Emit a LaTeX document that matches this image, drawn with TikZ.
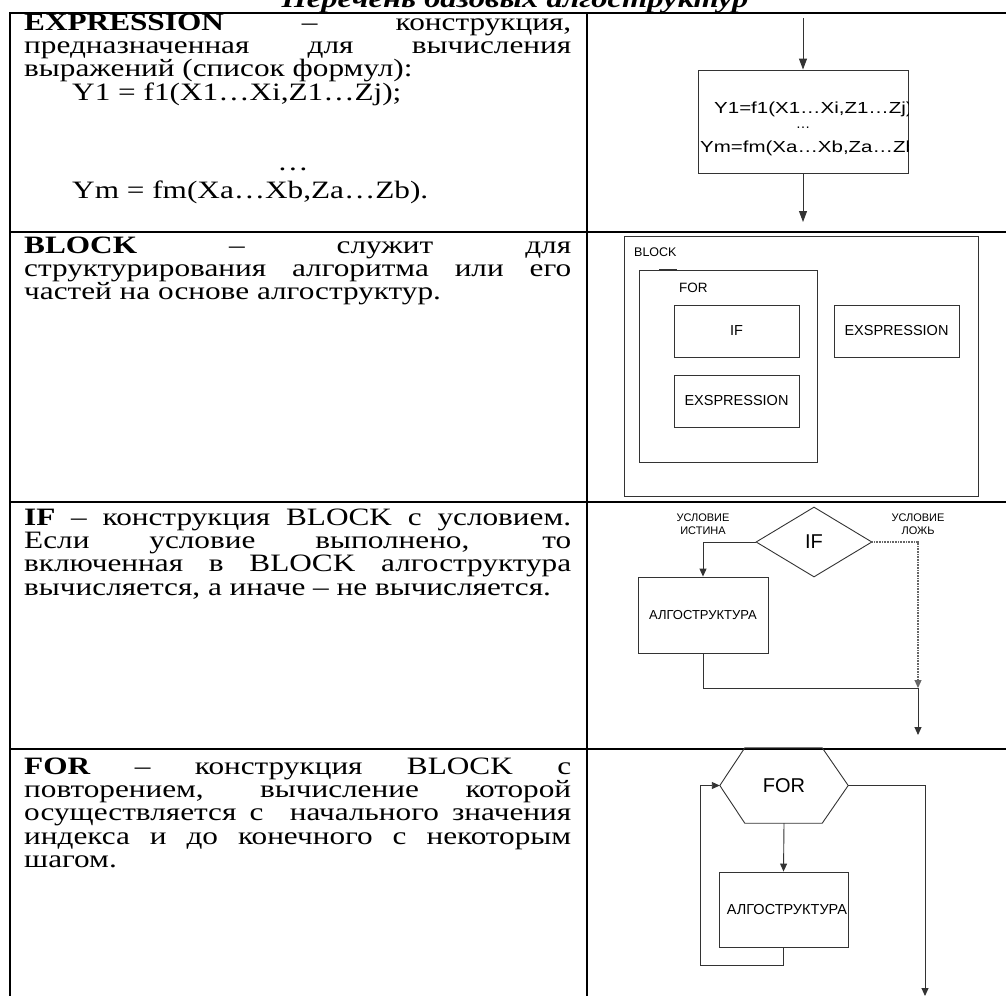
\documentclass[tikz,border=0pt]{standalone}
\usepackage{fontspec}
\usepackage{graphicx}
\setmainfont{Liberation Serif}
\newfontfamily\widefont{Liberation Serif}[FakeStretch=1.25]
\newfontfamily\diagfont{Liberation Sans}
\usetikzlibrary{arrows.meta,shapes.geometric}

\tikzset{
  tablerule/.style={line width=2pt, draw=black},
  wire/.style={line width=0.9pt, draw=black!80},
  arrowline/.style={wire, -{Triangle[length=8pt,width=7pt]}},
  bigarrow/.style={wire, -{Triangle[length=11pt,width=8pt]}},
  falsewire/.style={line width=1.1pt, draw=black!60, dash pattern=on 1pt off 0.6pt},
  rectbox/.style={draw=black!80, line width=0.9pt, rectangle, inner sep=0pt},
  txt/.style={anchor=base west, inner sep=0pt, font=\widefont\fontsize{25}{25}\selectfont},
  boxtext/.style={inner sep=0pt, font=\diagfont\fontsize{14.5}{16}\selectfont},
  cond/.style={inner sep=0pt, align=center, font=\diagfont\fontsize{11}{12.5}\selectfont},
  bigtext/.style={inner sep=0pt, font=\diagfont\fontsize{20}{20}\selectfont},
}
\newcommand{\jline}[1]{\makebox[547pt][s]{#1}}

\begin{document}
\begin{tikzpicture}[x=1pt, y=-1pt]
\useasboundingbox (0,0) rectangle (1006,996);
\clip (0,0) rectangle (1006,996);

% heading, partly above the page edge
\node[anchor=base, inner sep=0pt, font=\widefont\bfseries\itshape\fontsize{26}{26}\selectfont] (title) at (515,7) {Перечень базовых алгоструктур};

% table rules
\draw[tablerule] (10,13) -- (1006,13);
\draw[tablerule] (10,232) -- (1006,232);
\draw[tablerule] (10,502) -- (1006,502);
\draw[tablerule] (10,749) -- (1006,749);
\draw[tablerule] (10,12) -- (10,996);
\draw[tablerule] (587,12) -- (587,996);

% ---------- row 1: EXPRESSION ----------
\node[txt] (e1) at (24,30) {\jline{\textbf{EXPRESSION} – конструкция,}};
\node[txt] (e2) at (24,53.4) {\jline{предназначенная для вычисления}};
\node[txt] (e3) at (24,76.8) {выражений (список формул):};
\node[txt] (e4) at (72,100.2) {Y1 = f1(X1…Xi,Z1…Zj);};
\node[txt, anchor=base] (e5) at (293,170) {…};
\node[txt] (e6) at (72,198) {Ym = fm(Xa…Xb,Za…Zb).};

\node[rectbox, minimum width=210pt, minimum height=103pt] (exbox) at (803,121.5) {};
\coordinate (exin) at (803,18);
\coordinate (exout) at (803,222);
\draw[bigarrow] (exin) -- (exbox.north);
\draw[bigarrow] (exbox.south) -- (exout);
\begin{scope}
  \clip (exbox.south west) rectangle (exbox.north east);
  \node[boxtext, anchor=base west, font=\diagfont\fontsize{16}{16}\selectfont] (f1) at (714,113) {\scalebox{1.28}[1]{Y1=f1(X1…Xi,Z1…Zj)}};
  \node[boxtext, anchor=base] (f2) at (803,128) {…};
  \node[boxtext, anchor=base west, font=\diagfont\fontsize{16}{16}\selectfont] (f3) at (700,152) {\scalebox{1.28}[1]{Ym=fm(Xa…Xb,Za…Zb)}};
\end{scope}

% ---------- row 2: BLOCK ----------
\node[txt] (b1) at (24,253) {\jline{\textbf{BLOCK} – служит для}};
\node[txt] (b2) at (24,276.4) {\jline{структурирования алгоритма или его}};
\node[txt] (b3) at (24,299.8) {частей на основе алгоструктур.};

\node[rectbox, minimum width=354pt, minimum height=260pt] (blk) at (801,366) {};
\node[boxtext, anchor=base west, font=\diagfont\fontsize{12.5}{14}\selectfont] (blklbl) at (634,256) {BLOCK};
\node[rectbox, minimum width=178pt, minimum height=192pt] (forbox) at (728,366) {};
\draw[line width=1.8pt, black!80] (659,269.5) -- (677,269.5);
\node[boxtext, anchor=base west, font=\diagfont\fontsize{13.5}{14}\selectfont] (forlbl) at (679,292) {FOR};
\node[rectbox, boxtext, minimum width=125pt, minimum height=52pt] (ifbox) at (736.5,331) {IF};
\node[rectbox, boxtext, minimum width=125pt, minimum height=52pt] (exin1) at (736.5,401) {EXSPRESSION};
\node[rectbox, boxtext, minimum width=125pt, minimum height=52pt] (exin2) at (896.5,331) {EXSPRESSION};

% ---------- row 3: IF ----------
\node[txt] (i1) at (24,525) {\jline{\textbf{IF} – конструкция BLOCK с условием.}};
\node[txt] (i2) at (24,548.4) {\jline{Если условие выполнено, то}};
\node[txt] (i3) at (24,571.8) {\jline{включенная в BLOCK алгоструктура}};
\node[txt] (i4) at (24,595.2) {вычисляется, а иначе – не вычисляется.};

\node[draw=black!80, line width=0.9pt, diamond, minimum width=116pt, minimum height=70pt, inner sep=0pt, bigtext] (ifd) at (814,542) {IF};
\node[cond] (ctrue) at (703,524) {УСЛОВИЕ\\ИСТИНА};
\node[cond] (cfalse) at (918,524) {УСЛОВИЕ\\ЛОЖЬ};
\node[rectbox, minimum width=130pt, minimum height=76pt, font=\diagfont\fontsize{13}{14}\selectfont] (alg1) at (703,615) {АЛГОСТРУКТУРА};
\coordinate (join) at (918,688);
\coordinate (ifout) at (918,735);
\draw[arrowline] (ifd.west) -| (alg1.north);
\draw[wire] (alg1.south) |- (join);
\draw[falsewire, -{Triangle[length=8pt,width=7pt]}] (ifd.east) -| (join);
\draw[arrowline] (join) -- (ifout);

% ---------- row 4: FOR ----------
\node[txt] (r1) at (24,774) {\jline{\textbf{FOR} – конструкция BLOCK с}};
\node[txt] (r2) at (24,797.4) {\jline{повторением, вычисление которой}};
\node[txt] (r3) at (24,820.8) {\jline{осуществляется с\ \ начального значения}};
\node[txt] (r4) at (24,844.2) {\jline{индекса и до конечного с некоторым}};
\node[txt] (r5) at (24,867.6) {шагом.};

\node[bigtext, minimum width=128pt, minimum height=75pt] (forhex) at (784,785.5) {FOR};
\draw[wire] ([xshift=25pt]forhex.north west) -- ([xshift=-26pt]forhex.north east) -- (forhex.east)
  -- ([xshift=-26pt]forhex.south east) -- ([xshift=25pt]forhex.south west) -- (forhex.west) -- cycle;
\node[rectbox, minimum width=129pt, minimum height=75pt] (alg2) at (783.5,909.5) {};
\node[inner sep=0pt, font=\diagfont\fontsize{14.5}{15}\selectfont] (alg2txt) at (787,909) {АЛГОСТРУКТУРА};
\coordinate (loopcorner) at (700,965);
\coordinate (forout) at (925,996);
\draw[arrowline] (forhex.south) -- (alg2.north);
\draw[arrowline] (alg2.south) |- (loopcorner) |- (forhex.west);
\draw[arrowline] (forhex.east) -| (forout);
\end{tikzpicture}
\end{document}
